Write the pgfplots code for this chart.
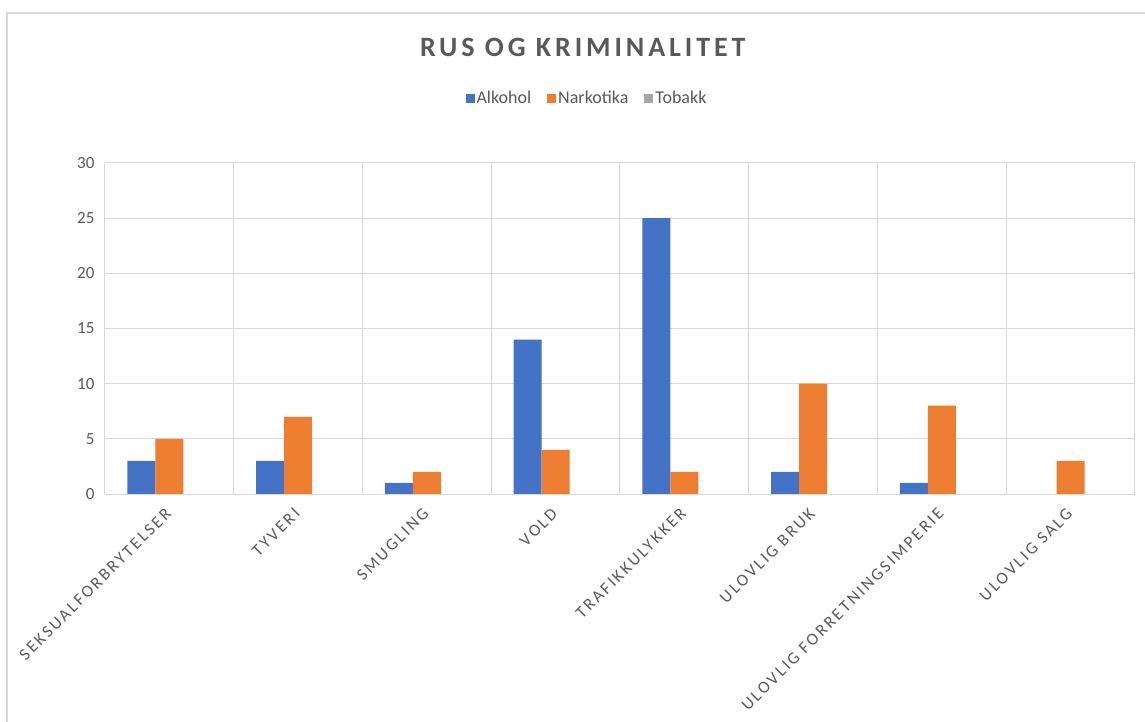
\documentclass[border=0pt]{standalone}
\usepackage{pgfplots}
\pgfplotsset{compat=1.18}
\usepackage{fontspec}
\setmainfont{Carlito}
\definecolor{txt}{HTML}{595959}
\definecolor{gridc}{HTML}{D9D9D9}
\definecolor{cA}{HTML}{4472C4}
\definecolor{cN}{HTML}{ED7D31}
\definecolor{cT}{HTML}{A5A5A5}
\begin{document}
\begin{tikzpicture}[x=1pt,y=1pt]
\useasboundingbox (-105pt,-228pt) rectangle (1040pt,494pt);
\draw[gridc, line width=1.2pt] (-98pt,-240pt) -- (-98pt,481pt) -- (1060pt,481pt);
\begin{axis}[
  at={(0,0)}, anchor=south west,
  scale only axis, width=1030pt, height=331pt,
  ybar=0pt, bar width=28pt,
  xmin=-0.5, xmax=7.5, ymin=0, ymax=30,
  ytick={0,5,...,30},
  xtick={0,...,7},
  xticklabels={SEKSUALFORBRYTELSER,TYVERI,SMUGLING,VOLD,TRAFIKKULYKKER,ULOVLIG BRUK,ULOVLIG FORRETNINGSIMPERIE,ULOVLIG SALG},
  minor xtick={-0.5,0.5,...,7.5},
  xminorgrids=true, ymajorgrids=true,
  grid style={gridc, line width=1pt},
  minor grid style={gridc, line width=1pt},
  axis line style={draw=none},
  major tick length=0pt, minor tick length=0pt,
  tick style={draw=none},
  /pgf/number format/assume math mode=true,
  ticklabel style={text=txt},
  yticklabel style={font=\fontsize{17}{20}\selectfont, xshift=-7pt},
  xticklabel shift=16pt,
  xticklabel style={font=\fontsize{17}{20}\selectfont\addfontfeatures{LetterSpace=14}, rotate=45, anchor=east, xshift=2pt},
  legend style={at={(0.468,1.196)}, anchor=center, draw=none, legend columns=3,
    font=\fontsize{18}{21}\selectfont, text=txt,
    /tikz/every even column/.append style={column sep=14pt},
    /tikz/every odd column/.append style={column sep=0pt}},
  legend image code/.code={\fill[#1] (0pt,-4.5pt) rectangle (9pt,4.5pt);},
  clip=false,
]
\addplot[fill=cA, draw=none] coordinates {(0,3) (1,3) (2,1) (3,14) (4,25) (5,2) (6,1) (7,0)};
\addplot[fill=cN, draw=none] coordinates {(0,5) (1,7) (2,2) (3,4) (4,2) (5,10) (6,8) (7,3)};
\addplot[fill=cT, draw=none] coordinates {(0,0) (1,0) (2,0) (3,0) (4,0) (5,0) (6,0) (7,0)};
\legend{Alkohol,Narkotika,Tobakk}
\draw[gridc, line width=1pt] (rel axis cs:0,0) -- (rel axis cs:1,0);
\node[text=txt, font=\fontsize{28}{32}\selectfont\bfseries\addfontfeatures{LetterSpace=14}] at (rel axis cs:0.464,1.35) {RUS OG KRIMINALITET};
\end{axis}
\end{tikzpicture}
\end{document}
